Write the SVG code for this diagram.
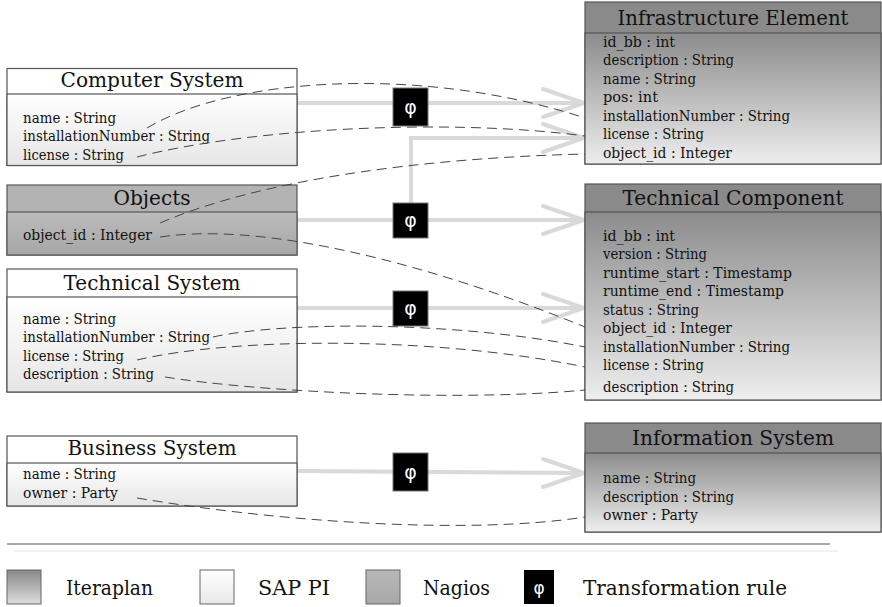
<svg xmlns="http://www.w3.org/2000/svg" width="882" height="607" viewBox="0 0 882 607">
<defs>
<linearGradient id="sapBody" x1="0" y1="0" x2="0" y2="1"><stop offset="0" stop-color="#ffffff"/><stop offset="1" stop-color="#e6e6e6"/></linearGradient>
<linearGradient id="iterBody" x1="0" y1="0" x2="0" y2="1"><stop offset="0" stop-color="#8c8c8c"/><stop offset="1" stop-color="#eeeeee"/></linearGradient>
<linearGradient id="nagBody" x1="0" y1="0" x2="0" y2="1"><stop offset="0" stop-color="#bcbcbc"/><stop offset="1" stop-color="#a6a6a6"/></linearGradient>
<linearGradient id="iterSw" x1="0" y1="0" x2="0" y2="1"><stop offset="0" stop-color="#888888"/><stop offset="1" stop-color="#dddddd"/></linearGradient>
<linearGradient id="sapSw" x1="0" y1="0" x2="0" y2="1"><stop offset="0" stop-color="#ffffff"/><stop offset="1" stop-color="#e8e8e8"/></linearGradient>
<linearGradient id="nagSw" x1="0" y1="0" x2="0" y2="1"><stop offset="0" stop-color="#b8b8b8"/><stop offset="1" stop-color="#a8a8a8"/></linearGradient>
</defs>
<style>
.box{stroke:#555;stroke-width:1.2}
.sapH{fill:#ffffff}
.sapB{fill:url(#sapBody)}
.iterH{fill:#8a8a8a}
.iterB{fill:url(#iterBody)}
.nagH{fill:#b3b3b3}
.nagB{fill:url(#nagBody)}
.title{font-family:'DejaVu Serif','Liberation Serif',serif;font-size:21px;fill:#111;text-anchor:middle}
.attr{font-family:'DejaVu Serif','Liberation Serif',serif;font-size:14px;fill:#111}
.flow{stroke:#d9d9d9;stroke-width:4;fill:none}
.head{stroke:#d9d9d9;stroke-width:4;fill:none;stroke-linecap:round;stroke-linejoin:miter}
.dash{stroke:#444;stroke-width:1;fill:none;stroke-dasharray:10 6}
.phi{fill:#000;stroke:#777;stroke-width:1}
.phit{font-family:'DejaVu Sans',sans-serif;font-size:19px;fill:#fff;text-anchor:middle}
.leg{font-family:'DejaVu Serif','Liberation Serif',serif;font-size:21px;fill:#111}
</style>

<g id="flows">
<line class="flow" x1="297" y1="103" x2="583" y2="103"/>
<path class="head" d="M543,89 L584,103 L543,117"/>
<polyline class="flow" points="411,203 411,138 583,138"/>
<path class="head" d="M543,124 L584,138 L543,152"/>
<line class="flow" x1="297" y1="220" x2="583" y2="220"/>
<path class="head" d="M543,206 L584,220 L543,234"/>
<line class="flow" x1="297" y1="308" x2="583" y2="308"/>
<path class="head" d="M543,294 L584,308 L543,322"/>
<line class="flow" x1="297" y1="471" x2="583" y2="473"/>
<path class="head" d="M543,459 L584,473 L543,487"/>
</g>

<g id="computer-system">
<rect class="box sapH" x="7" y="68.5" width="290" height="97"/>
<rect class="box sapB" x="7" y="94" width="290" height="71.5"/>
<text class="title" x="152" y="87" textLength="183" lengthAdjust="spacingAndGlyphs">Computer System</text>
<text class="attr" x="23" y="123" textLength="93" lengthAdjust="spacingAndGlyphs">name : String</text>
<text class="attr" x="23" y="141" textLength="187" lengthAdjust="spacingAndGlyphs">installationNumber : String</text>
<text class="attr" x="23" y="160" textLength="101" lengthAdjust="spacingAndGlyphs">license : String</text>
</g>

<g id="objects">
<rect class="box nagH" x="7" y="185" width="290" height="70"/>
<rect class="box nagB" x="7" y="212" width="290" height="43"/>
<text class="title" x="152" y="205" textLength="77" lengthAdjust="spacingAndGlyphs">Objects</text>
<text class="attr" x="23" y="240" textLength="129" lengthAdjust="spacingAndGlyphs">object_id : Integer</text>
</g>

<g id="technical-system">
<rect class="box sapH" x="7" y="269" width="290" height="123"/>
<rect class="box sapB" x="7" y="297" width="290" height="95"/>
<text class="title" x="152" y="290" textLength="177" lengthAdjust="spacingAndGlyphs">Technical System</text>
<text class="attr" x="23" y="324" textLength="93" lengthAdjust="spacingAndGlyphs">name : String</text>
<text class="attr" x="23" y="342" textLength="187" lengthAdjust="spacingAndGlyphs">installationNumber : String</text>
<text class="attr" x="23" y="361" textLength="101" lengthAdjust="spacingAndGlyphs">license : String</text>
<text class="attr" x="23" y="379" textLength="131" lengthAdjust="spacingAndGlyphs">description : String</text>
</g>

<g id="business-system">
<rect class="box sapH" x="7" y="436" width="290" height="70"/>
<rect class="box sapB" x="7" y="463" width="290" height="43"/>
<text class="title" x="152" y="455" textLength="169" lengthAdjust="spacingAndGlyphs">Business System</text>
<text class="attr" x="23" y="479" textLength="93" lengthAdjust="spacingAndGlyphs">name : String</text>
<text class="attr" x="23" y="498" textLength="95" lengthAdjust="spacingAndGlyphs">owner : Party</text>
</g>

<g id="infrastructure-element">
<rect class="box iterH" x="585" y="2" width="296" height="162"/>
<rect class="box iterB" x="585" y="33" width="296" height="131"/>
<text class="title" x="733" y="25" textLength="231" lengthAdjust="spacingAndGlyphs">Infrastructure Element</text>
<text class="attr" x="603" y="47" textLength="72" lengthAdjust="spacingAndGlyphs">id_bb : int</text>
<text class="attr" x="603" y="65" textLength="131" lengthAdjust="spacingAndGlyphs">description : String</text>
<text class="attr" x="603" y="84" textLength="93" lengthAdjust="spacingAndGlyphs">name : String</text>
<text class="attr" x="603" y="102" textLength="55" lengthAdjust="spacingAndGlyphs">pos: int</text>
<text class="attr" x="603" y="121" textLength="187" lengthAdjust="spacingAndGlyphs">installationNumber : String</text>
<text class="attr" x="603" y="139" textLength="101" lengthAdjust="spacingAndGlyphs">license : String</text>
<text class="attr" x="603" y="158" textLength="129" lengthAdjust="spacingAndGlyphs">object_id : Integer</text>
</g>

<g id="technical-component">
<rect class="box iterH" x="585" y="184" width="296" height="216"/>
<rect class="box iterB" x="585" y="212" width="296" height="188"/>
<text class="title" x="733" y="205" textLength="221" lengthAdjust="spacingAndGlyphs">Technical Component</text>
<text class="attr" x="603" y="241" textLength="72" lengthAdjust="spacingAndGlyphs">id_bb : int</text>
<text class="attr" x="603" y="259" textLength="104" lengthAdjust="spacingAndGlyphs">version : String</text>
<text class="attr" x="603" y="278" textLength="189" lengthAdjust="spacingAndGlyphs">runtime_start : Timestamp</text>
<text class="attr" x="603" y="296" textLength="181" lengthAdjust="spacingAndGlyphs">runtime_end : Timestamp</text>
<text class="attr" x="603" y="315" textLength="96" lengthAdjust="spacingAndGlyphs">status : String</text>
<text class="attr" x="603" y="333" textLength="129" lengthAdjust="spacingAndGlyphs">object_id : Integer</text>
<text class="attr" x="603" y="352" textLength="187" lengthAdjust="spacingAndGlyphs">installationNumber : String</text>
<text class="attr" x="603" y="370" textLength="101" lengthAdjust="spacingAndGlyphs">license : String</text>
<text class="attr" x="603" y="392" textLength="131" lengthAdjust="spacingAndGlyphs">description : String</text>
</g>

<g id="information-system">
<rect class="box iterH" x="585" y="423" width="296" height="109"/>
<rect class="box iterB" x="585" y="453" width="296" height="79"/>
<text class="title" x="733" y="445" textLength="202" lengthAdjust="spacingAndGlyphs">Information System</text>
<text class="attr" x="603" y="483" textLength="93" lengthAdjust="spacingAndGlyphs">name : String</text>
<text class="attr" x="603" y="502" textLength="131" lengthAdjust="spacingAndGlyphs">description : String</text>
<text class="attr" x="603" y="520" textLength="95" lengthAdjust="spacingAndGlyphs">owner : Party</text>
</g>

<g id="rule-1"><rect class="phi" x="393" y="88" width="35" height="38"/><text class="phit" x="410.5" y="114">φ</text></g>
<g id="rule-2"><rect class="phi" x="393" y="203" width="35" height="35"/><text class="phit" x="410.5" y="227">φ</text></g>
<g id="rule-3"><rect class="phi" x="393" y="291" width="35" height="35"/><text class="phit" x="410.5" y="315">φ</text></g>
<g id="rule-4"><rect class="phi" x="393" y="453" width="35" height="38"/><text class="phit" x="410.5" y="479">φ</text></g>

<g id="mappings">
<path class="dash" d="M147,128 C230,78 420,64 585,118"/>
<path class="dash" d="M137,157 C250,128 450,118 585,136"/>
<path class="dash" d="M160,223 C260,180 420,158 585,154"/>
<path class="dash" d="M160,237 C260,222 420,260 585,327"/>
<path class="dash" d="M213,337 C280,322 450,320 585,347"/>
<path class="dash" d="M137,360 C230,338 430,335 585,367"/>
<path class="dash" d="M165,377 C260,392 460,402 585,390"/>
<path class="dash" d="M137,498 C280,522 470,535 585,517"/>
</g>

<g id="legend">
<line x1="7" y1="544" x2="830" y2="544" stroke="#555" stroke-width="1.2"/>
<line x1="14" y1="551" x2="838" y2="551" stroke="#e6e6e6" stroke-width="1.2"/>
<rect x="7" y="570" width="34" height="34" fill="url(#iterSw)" stroke="#666" stroke-width="1"/>
<text class="leg" x="66" y="595" textLength="87" lengthAdjust="spacingAndGlyphs">Iteraplan</text>
<rect x="200" y="570" width="34" height="34" fill="url(#sapSw)" stroke="#666" stroke-width="1"/>
<text class="leg" x="258" y="595" textLength="72" lengthAdjust="spacingAndGlyphs">SAP PI</text>
<rect x="366" y="570" width="34" height="34" fill="url(#nagSw)" stroke="#666" stroke-width="1"/>
<text class="leg" x="423" y="595" textLength="67" lengthAdjust="spacingAndGlyphs">Nagios</text>
<rect x="524" y="570" width="30" height="34" fill="#000"/>
<text class="phit" x="539" y="594" style="font-size:17px">φ</text>
<text class="leg" x="583" y="595" textLength="204" lengthAdjust="spacingAndGlyphs">Transformation rule</text>
</g>
</svg>
